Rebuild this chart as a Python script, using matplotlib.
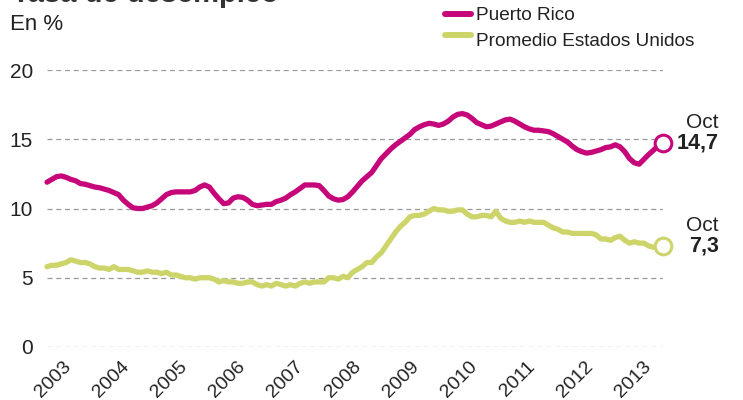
import numpy as np
import matplotlib
matplotlib.use("Agg")
from matplotlib import pyplot as plt
from matplotlib.lines import Line2D

plt.rcParams['font.family'] = ['Liberation Sans', 'DejaVu Sans']

# data: monthly unemployment rate, Jan 2003 - Oct 2013

puerto_rico = [
  11.9, 12.1, 12.3, 12.35, 12.25, 12.1, 12.0, 11.8, 11.75, 11.65, 11.55, 11.5,
  11.4, 11.3, 11.15, 11.0, 10.6, 10.3, 10.05, 10.0, 10.0, 10.1, 10.2, 10.4,
  10.7, 11.0, 11.15, 11.2, 11.2, 11.2, 11.2, 11.3, 11.55, 11.7, 11.55, 11.1,
  10.7, 10.35, 10.4, 10.75, 10.85, 10.8, 10.6, 10.3, 10.2, 10.25, 10.3, 10.3,
  10.5, 10.6, 10.75, 11.0, 11.2, 11.45, 11.7, 11.7, 11.7, 11.65, 11.3, 10.9,
  10.7, 10.6, 10.65, 10.85, 11.2, 11.6, 12.0, 12.3, 12.6, 13.1, 13.6, 13.95,
  14.3, 14.6, 14.85, 15.1, 15.35, 15.7, 15.9, 16.05, 16.15, 16.1, 16.0, 16.1,
  16.3, 16.6, 16.8, 16.85, 16.75, 16.5, 16.2, 16.05, 15.9, 15.95, 16.1, 16.25,
  16.4, 16.45, 16.3, 16.1, 15.9, 15.75, 15.65, 15.65, 15.6, 15.55, 15.4, 15.2,
  15.0, 14.8, 14.5, 14.25, 14.1, 14.0, 14.05, 14.15, 14.25, 14.4, 14.45, 14.6,
  14.45, 14.1, 13.6, 13.3, 13.2, 13.55, 13.9, 14.2, 14.55, 14.7,
]

estados_unidos = [
  5.8, 5.9, 5.9, 6.0, 6.1, 6.3, 6.2, 6.1, 6.1, 6.0, 5.8, 5.7,
  5.7, 5.6, 5.8, 5.6, 5.6, 5.6, 5.5, 5.4, 5.4, 5.5, 5.4, 5.4,
  5.3, 5.4, 5.2, 5.2, 5.1, 5.0, 5.0, 4.9, 5.0, 5.0, 5.0, 4.9,
  4.7, 4.8, 4.7, 4.7, 4.6, 4.6, 4.7, 4.7, 4.5, 4.4, 4.5, 4.4,
  4.6, 4.5, 4.4, 4.5, 4.4, 4.6, 4.7, 4.6, 4.7, 4.7, 4.7, 5.0,
  5.0, 4.9, 5.1, 5.0, 5.4, 5.6, 5.8, 6.1, 6.1, 6.5, 6.8, 7.3,
  7.8, 8.3, 8.7, 9.0, 9.4, 9.5, 9.5, 9.6, 9.8, 10.0, 9.9, 9.9,
  9.8, 9.8, 9.9, 9.9, 9.6, 9.4, 9.4, 9.5, 9.5, 9.4, 9.8, 9.3,
  9.1, 9.0, 9.0, 9.1, 9.0, 9.1, 9.0, 9.0, 9.0, 8.8, 8.6, 8.5,
  8.3, 8.3, 8.2, 8.2, 8.2, 8.2, 8.2, 8.1, 7.8, 7.8, 7.7, 7.9,
  8.0, 7.7, 7.5, 7.6, 7.5, 7.5, 7.3, 7.2, 7.2, 7.3,
]

years = [str(y) for y in range(2003, 2014)]
yticks = [0, 5, 10, 15, 20]
last_labels = ['14,7', '7,3']
legend_labels = ['Puerto Rico', 'Promedio Estados Unidos']

PR_COLOR = '#c6077a'
US_COLOR = '#ccd46a'
TEXT = '#222222'

months = np.arange(len(puerto_rico))

fig = plt.figure(figsize=(7.43, 4.0), dpi=100)
ax = fig.add_axes([47/743, 53/400, 616/743, 277/400])

ax.plot(months, puerto_rico, color=PR_COLOR, lw=3.8, solid_capstyle='round',
        solid_joinstyle='round', clip_on=False, zorder=3)
ax.plot(months, estados_unidos, color=US_COLOR, lw=3.8, solid_capstyle='round',
        solid_joinstyle='round', clip_on=False, zorder=3)

# end markers
for series, col in [(puerto_rico, PR_COLOR), (estados_unidos, US_COLOR)]:
  ax.plot(months[-1], series[-1], 'o', ms=12, mfc='white', mec=col, mew=2.2,
          clip_on=False, zorder=4)

ax.set_xlim(0, len(puerto_rico) - 1)
ax.set_ylim(0, 20)

ax.set_yticks(yticks)
ax.set_yticklabels([str(v) for v in yticks], fontsize=15, color=TEXT)
ax.yaxis.grid(True, ls=(0, (4, 3)), color='#999999', lw=0.9)
ax.set_axisbelow(True)

ax.set_xticks([3.2 + 12.15*i for i in range(len(years))])
ax.set_xticklabels(years, fontsize=14, color=TEXT, rotation=45,
                   ha='right', va='top', rotation_mode='anchor')

ax.tick_params(length=0)
ax.tick_params(axis='y', pad=10)
ax.tick_params(axis='x', pad=8)
for s in ax.spines.values():
  s.set_visible(False)

# annotations at the right
for series, lab in [(puerto_rico, last_labels[0]), (estados_unidos, last_labels[1])]:
  ax.annotate('Oct', (months[-1], series[-1]), xytext=(40, 8),
              textcoords='offset points', ha='right', va='bottom',
              fontsize=15, color=TEXT, annotation_clip=False)
  ax.annotate(lab, (months[-1], series[-1]), xytext=(40, 0),
              textcoords='offset points', ha='right', va='center',
              fontsize=15.5, fontweight='bold', color=TEXT, annotation_clip=False)

# titles (title is cropped at the top edge, as in the source)
fig.text(12/743, 1 - 2/400, 'Tasa de desempleo', fontsize=21, fontweight='bold',
         color='#333333', ha='left', va='baseline')
fig.text(10/743, 1 - 25/400, 'En %', fontsize=16, color=TEXT, ha='left', va='center')

# legend, drawn by hand
for i, (lab, col) in enumerate(zip(legend_labels, [PR_COLOR, US_COLOR])):
  y_line = 1 - (14 + 21*i)/400
  y_text = 1 - (15 + 27*i)/400
  fig.add_artist(Line2D([445/743, 471/743], [y_line, y_line], color=col, lw=4.3,
                        solid_capstyle='round'))
  fig.text(476/743, y_text, lab, fontsize=13.7, color=TEXT, ha='left', va='center')

fig.savefig('out.png', dpi=100)
